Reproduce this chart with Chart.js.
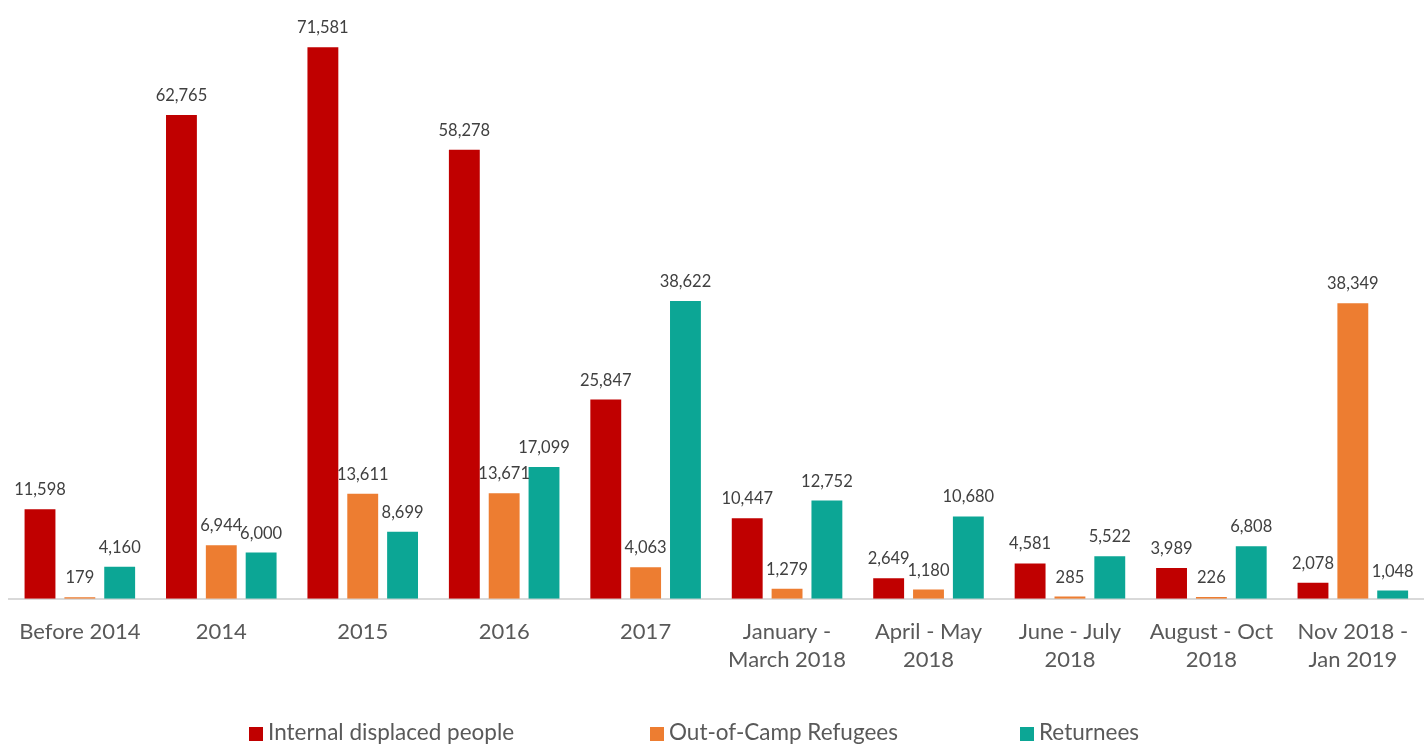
<!DOCTYPE html>
<html>
<head>
    <title>Displacement by period</title>
    <script src="https://cdn.jsdelivr.net/npm/chart.js"></script>
    <style>
        html, body { margin: 0; padding: 0; background: #fff; }
        #wrap { position: relative; width: 1427px; height: 744px; }
        .legend {
            position: absolute; left: 0; top: 719px; width: 1427px;
            font-family: Lato, "Open Sans", sans-serif; font-size: 22.5px; color: #595959;
        }
        .legend span { position: absolute; white-space: nowrap; line-height: 26px; }
        .legend i { display: inline-block; width: 14px; height: 14px; margin-right: 5px; vertical-align: -1px; }
    </style>
</head>
<body>
    <div id="wrap">
        <canvas id="chart" width="1427" height="744"></canvas>
        <div class="legend" id="legend"></div>
    </div>

    <script>
        const categories = [
            'Before 2014', '2014', '2015', '2016', '2017',
            ['January -', 'March 2018'], ['April - May', '2018'], ['June - July', '2018'],
            ['August - Oct', '2018'], ['Nov 2018 -', 'Jan 2019']
        ];
        const idp = [11598, 62765, 71581, 58278, 25847, 10447, 2649, 4581, 3989, 2078];
        const refugees = [179, 6944, 13611, 13671, 4063, 1279, 1180, 285, 226, 38349];
        const returnees = [4160, 6000, 8699, 17099, 38622, 12752, 10680, 5522, 6808, 1048];
        const seriesNames = ['Internal displaced people', 'Out-of-Camp Refugees', 'Returnees'];
        const colors = ['#C00000', '#ED7D31', '#0CA695'];

        // value labels above each bar
        const valueLabels = {
            id: 'valueLabels',
            afterDatasetsDraw(chart) {
                const ctx = chart.ctx;
                ctx.save();
                ctx.font = '16.5px Lato, "Open Sans", sans-serif';
                ctx.fillStyle = '#404040';
                ctx.textAlign = 'center';
                ctx.textBaseline = 'bottom';
                chart.data.datasets.forEach((ds, i) => {
                    chart.getDatasetMeta(i).data.forEach((bar, j) => {
                        ctx.fillText(ds.data[j].toLocaleString('en-US'), bar.x, bar.y - 11);
                    });
                });
                ctx.restore();
            }
        };

        new Chart(document.getElementById('chart'), {
            type: 'bar',
            data: {
                labels: categories,
                datasets: [idp, refugees, returnees].map((d, i) => ({
                    label: seriesNames[i],
                    data: d,
                    backgroundColor: colors[i],
                    categoryPercentage: 0.845,
                    barPercentage: 0.775
                }))
            },
            options: {
                responsive: false,
                animation: false,
                layout: { padding: { left: 8, right: 0, top: 0, bottom: 51 } },
                plugins: {
                    legend: { display: false },
                    tooltip: { enabled: false }
                },
                scales: {
                    y: { display: false, min: 0, max: 77700 },
                    x: {
                        grid: { display: false, drawTicks: false },
                        border: { display: true, color: '#D9D9D9', width: 2 },
                        ticks: {
                            color: '#595959',
                            padding: 19,
                            maxRotation: 0,
                            autoSkip: false,
                            font: { family: 'Lato, "Open Sans", sans-serif', size: 22, lineHeight: 1.28 }
                        }
                    }
                }
            },
            plugins: [valueLabels]
        });

        // legend laid out like the original, wide gaps between items
        const legendX = [249, 650, 1020];
        const legend = document.getElementById('legend');
        seriesNames.forEach((name, i) => {
            const s = document.createElement('span');
            s.style.left = legendX[i] + 'px';
            s.innerHTML = '<i style="background:' + colors[i] + '"></i>' + name;
            legend.appendChild(s);
        });
    </script>
</body>
</html>
